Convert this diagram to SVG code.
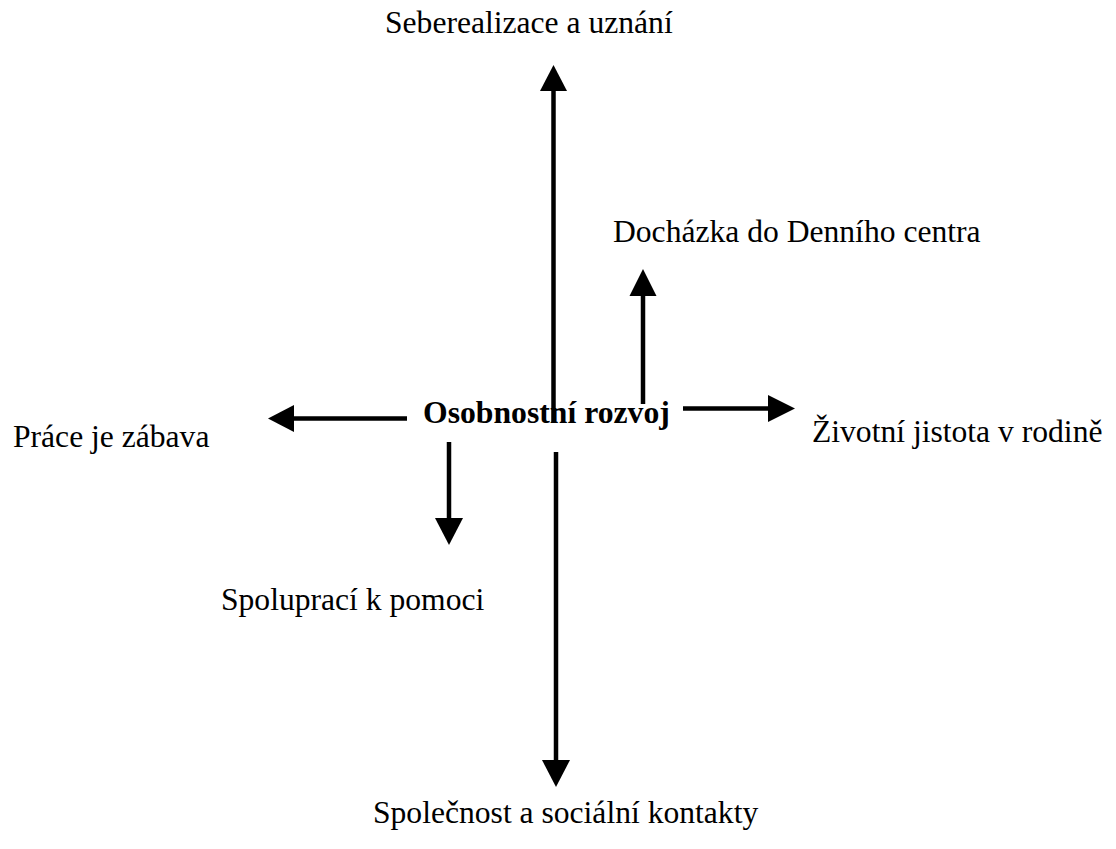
<svg xmlns="http://www.w3.org/2000/svg" width="1116" height="849" viewBox="0 0 1116 849">
<style>
  .lbl { font-family: "Liberation Serif", "Times New Roman", serif; font-size: 31.6px; fill: #000; }
  .ctr { font-family: "Liberation Serif", "Times New Roman", serif; font-size: 31.7px; font-weight: bold; fill: #000; }
  .ln { stroke: #000; stroke-width: 4.5; fill: none; }
  .hd { fill: #000; stroke: none; }
</style>
<rect width="1116" height="849" fill="#fff"/>
<g id="connectors">
  <line class="ln" x1="553.5" y1="422" x2="553.5" y2="88"/>
  <polygon class="hd" points="553.5,65 540,91 567,91"/>
  <line class="ln" x1="643" y1="404" x2="643" y2="294"/>
  <polygon class="hd" points="643,269 629.5,296 656.5,296"/>
  <line class="ln" x1="407" y1="418.5" x2="288" y2="418.5"/>
  <polygon class="hd" points="268,418.5 294,405 294,432"/>
  <line class="ln" x1="683" y1="408.5" x2="770" y2="408.5"/>
  <polygon class="hd" points="795,408.5 768,395 768,422"/>
  <line class="ln" x1="449" y1="442" x2="449" y2="520"/>
  <polygon class="hd" points="449,545 435,518 463,518"/>
  <line class="ln" x1="556" y1="452" x2="556" y2="762"/>
  <polygon class="hd" points="556,787 542,760 570,760"/>
</g>
<g id="node-center"><text class="ctr" x="423" y="423">Osobnostní rozvoj</text></g>
<g id="node-seberealizace"><text class="lbl" x="385" y="33">Seberealizace a uznání</text></g>
<g id="node-dochazka"><text class="lbl" x="613" y="242">Docházka do Denního centra</text></g>
<g id="node-prace"><text class="lbl" x="13" y="447">Práce je zábava</text></g>
<g id="node-jistota"><text class="lbl" x="812" y="442">Životní jistota v rodině</text></g>
<g id="node-spoluprace"><text class="lbl" x="221" y="610">Spoluprací k pomoci</text></g>
<g id="node-spolecnost"><text class="lbl" x="373" y="823">Společnost a sociální kontakty</text></g>
</svg>
